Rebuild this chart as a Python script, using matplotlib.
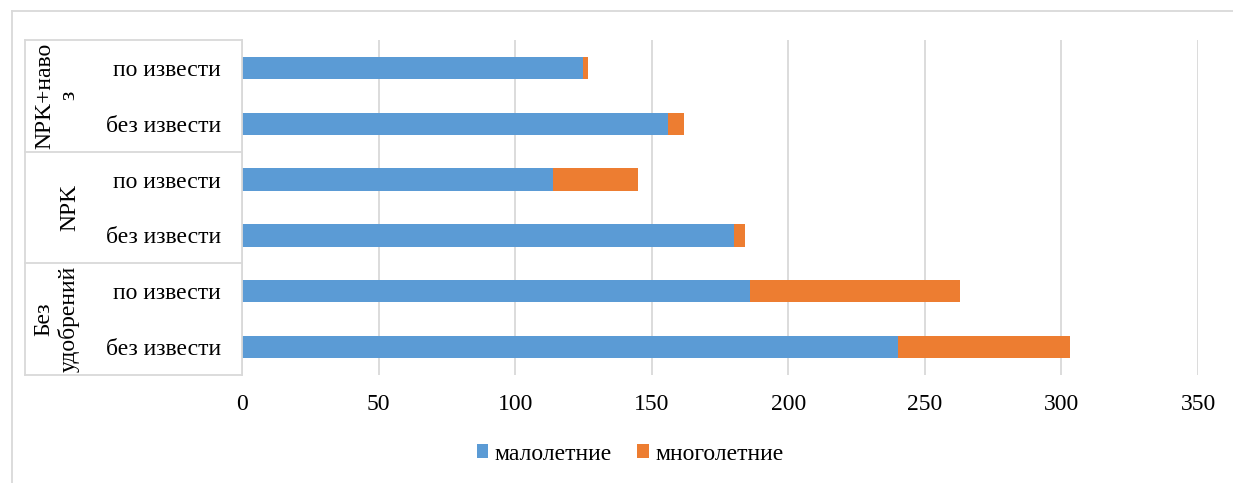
import matplotlib
matplotlib.use("Agg")
import matplotlib.pyplot as plt
from matplotlib.lines import Line2D
from matplotlib.patches import Patch
from matplotlib.transforms import blended_transform_factory

plt.rcParams['font.family'] = ['Liberation Serif', 'DejaVu Serif']

# Data (bottom to top)
groups = ["Без\nудобрений", "NPK", "NPK+наво\nз"]
subcats = ["без извести", "по извести"]
annual = [240, 186, 180, 114, 156, 125]      # малолетние
perennial = [63, 77, 4, 31, 6, 1.5]          # многолетние
series_names = ["малолетние", "многолетние"]
xticks = [0, 50, 100, 150, 200, 250, 300, 350]

BLUE = "#5B9BD5"
ORANGE = "#ED7D31"
GRID = "#D9D9D9"

W, H = 1233, 483
fig = plt.figure(figsize=(W / 100, H / 100), dpi=100)

# plot area in pixel terms
left_px, right_px, top_px, bottom_px = 242, 1198, 40, 375
ax = fig.add_axes([left_px / W, (H - bottom_px) / H,
                   (right_px - left_px) / W, (bottom_px - top_px) / H])

n = len(annual)
ypos = list(range(n))
ax.barh(ypos, annual, height=0.4, color=BLUE, zorder=3)
ax.barh(ypos, perennial, left=annual, height=0.4, color=ORANGE, zorder=3)

ax.set_xlim(0, 350)
ax.set_ylim(-0.5, n - 0.5)
ax.set_xticks(xticks)
ax.set_xticklabels([str(t) for t in xticks], fontsize=17)
ax.set_yticks([])
ax.tick_params(axis='x', length=0, pad=14)
ax.grid(axis='x', color=GRID, linewidth=1.3, zorder=0)
for s in ax.spines.values():
    s.set_visible(False)

# category table on the left
tr = blended_transform_factory(fig.transFigure, ax.transData)
x_outer = 25 / W
x_axis = left_px / W
for b in [-0.5, 1.5, 3.5, 5.5]:
    fig.add_artist(Line2D([x_outer, x_axis], [b, b], transform=tr,
                          color=GRID, lw=1.3))
fig.add_artist(Line2D([x_outer, x_outer], [-0.5, n - 0.5], transform=tr,
                      color=GRID, lw=1.3))
fig.add_artist(Line2D([x_axis, x_axis], [-0.5, n - 0.5], transform=tr,
                      color=GRID, lw=1.3))

for i in range(n):
    fig.text(221 / W, i, subcats[i % 2], transform=tr, ha='right',
             va='center_baseline', fontsize=17)

group_x = [57, 70, 57]
for g, name in enumerate(groups):
    yc = 2 * g + 0.5
    fig.text(group_x[g] / W, yc, name, transform=tr, ha='center',
             va='center', rotation=90, fontsize=17, linespacing=1.2,
             multialignment='center')

# chart frame
fig.add_artist(Line2D([12 / W, 1.0], [1 - 11 / H, 1 - 11 / H],
                      transform=fig.transFigure, color=GRID, lw=1.3))
fig.add_artist(Line2D([12 / W, 12 / W], [0, 1 - 11 / H],
                      transform=fig.transFigure, color=GRID, lw=1.3))

handles = [Patch(facecolor=BLUE, label=series_names[0]),
           Patch(facecolor=ORANGE, label=series_names[1])]
fig.legend(handles=handles, loc='center', bbox_to_anchor=(630 / W, 1 - 454 / H),
           ncol=2, frameon=False, fontsize=17, handlelength=0.5,
           handleheight=0.5, handletextpad=0.25, columnspacing=1.1)

fig.savefig("out.png", dpi=100)
